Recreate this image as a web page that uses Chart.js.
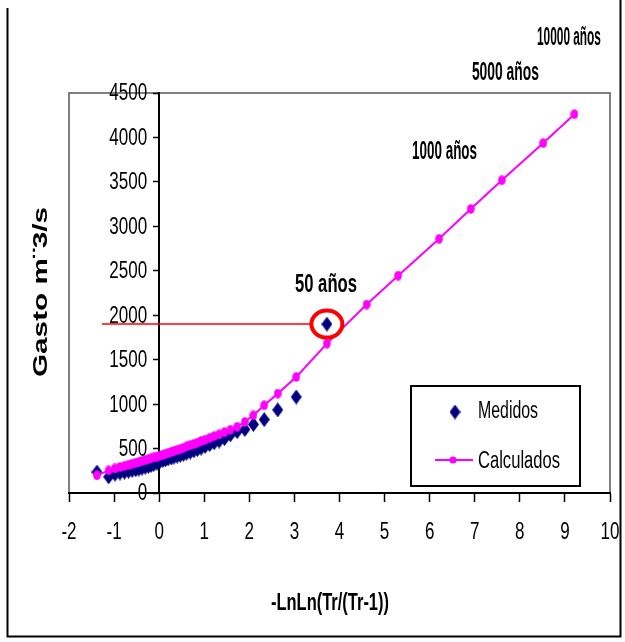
<!DOCTYPE html>
<html><head><meta charset="utf-8">
<script src="https://cdn.jsdelivr.net/npm/chart.js@4.4.1/dist/chart.umd.min.js"></script>
<style>html,body{margin:0;padding:0;background:#fff;} canvas{display:block;}</style>
</head><body>
<canvas id="c" width="625" height="642"></canvas>
<script>
// ---- data ----
const ppX = [3.72, 3.04, 2.63, 2.33, 2.09, 1.90, 1.73, 1.58, 1.45, 1.33, 1.22, 1.12, 1.02, 0.93, 0.85, 0.77, 0.69, 0.61, 0.54, 0.47, 0.40, 0.33, 0.27, 0.20, 0.14, 0.08, 0.01, -0.05, -0.12, -0.18, -0.24, -0.31, -0.38, -0.45, -0.52, -0.60, -0.68, -0.77, -0.87, -0.98, -1.12, -1.38];
const medidos = [1900, 1080, 935, 826, 772, 715, 690, 655, 612, 585, 565, 545, 525, 505, 490, 475, 460, 448, 436, 425, 415, 405, 395, 385, 375, 365, 350, 335, 322, 310, 300, 290, 280, 270, 262, 255, 245, 235, 225, 212, 182, 236];
const calcPP = [1681, 1305, 1118, 987, 874, 800, 745, 712, 685, 660, 640, 620, 600, 585, 568, 553, 538, 524, 510, 497, 485, 473, 462, 452, 442, 432, 420, 410, 400, 390, 380, 370, 360, 350, 340, 330, 318, 305, 292, 276, 255, 199];
const rpX = [4.60, 5.30, 6.21, 6.91, 7.60, 8.52, 9.21];
const calcRP = [2120, 2445, 2860, 3195, 3518, 3937, 4262];
const xTicks = [-2, -1, 0, 1, 2, 3, 4, 5, 6, 7, 8, 9, 10];
const yTicks = [0, 500, 1000, 1500, 2000, 2500, 3000, 3500, 4000, 4500];
const seriesNames = ['Medidos', 'Calculados'];
const xTitle = '-LnLn(Tr/(Tr-1))';
const yTitle = 'Gasto m¨3/s';
const periodLabels = ['50 años', '1000 años', '5000 años', '10000 años'];
const periodLabelAt = [[3.70, 2258], [6.33, 3754], [7.68, 4643], [9.09, 5037]];
const highlight = {x: 3.72, y: 1900, fromX: -1.27};

// ---- styles ----
const NAVY = '#000080', MAG = '#FF00FF';
const SANS = "'Liberation Sans', Arial, sans-serif";
const TICK_FONT = '23.3px ' + SANS, TICK_SQUEEZE = 0.73;
const labelWidths = [62, 65, 67, 64];

const diamond = (() => { const c = document.createElement('canvas'); c.width = 11; c.height = 15; const g = c.getContext('2d'); g.fillStyle = NAVY; g.beginPath(); g.moveTo(5.5,0); g.lineTo(11,7.5); g.lineTo(5.5,15); g.lineTo(0,7.5); g.closePath(); g.fill(); return c; })();
const blob = (() => { const c = document.createElement('canvas'); c.width = 8; c.height = 10; const g = c.getContext('2d'); g.fillStyle = MAG; g.beginPath(); g.ellipse(4,5,3.8,4.8,0,0,Math.PI*2); g.fill(); return c; })();

const calcPoints = ppX.map((x,i)=>({x, y: calcPP[i]})).concat(rpX.map((x,i)=>({x, y: calcRP[i]}))).sort((a,b)=>a.x-b.x);
const medPoints = ppX.map((x,i)=>({x, y: medidos[i]}));

function sText(ctx, s, x, by, font, targetW, align, baseline) {
  ctx.save(); ctx.font = font; const w = ctx.measureText(s).width;
  ctx.translate(x, by); ctx.scale(targetW / w, 1);
  ctx.textAlign = align || 'center'; ctx.textBaseline = baseline || 'alphabetic';
  ctx.fillStyle = '#000'; ctx.fillText(s, 0, 0); ctx.restore();
}
function squeezed(ctx, s, x, y, align) {
  ctx.save(); ctx.font = TICK_FONT; ctx.translate(x, y); ctx.scale(TICK_SQUEEZE, 1);
  ctx.textAlign = align; ctx.textBaseline = 'middle'; ctx.fillStyle = '#000'; ctx.fillText(s, 0, 0); ctx.restore();
}

const deco = {
  id: 'deco',
  beforeDraw(chart) {
    const {ctx, chartArea: a} = chart;
    ctx.save();
    ctx.fillStyle = '#fff'; ctx.fillRect(0, 0, chart.width, chart.height);
    ctx.strokeStyle = '#808080'; ctx.lineWidth = 2;
    ctx.strokeRect(a.left, a.top, a.right - a.left, a.bottom - a.top);
    ctx.restore();
  },
  afterDraw(chart) {
    const {ctx} = chart; const sx = chart.scales.x, sy = chart.scales.y;
    ctx.save();
    // tick labels, placed by the chart's own scales
    const x0 = sx.getPixelForValue(0), y0 = sy.getPixelForValue(0);
    sy.ticks.forEach(t => squeezed(ctx, String(t.value), x0 - 12, sy.getPixelForValue(t.value) + 1, 'right'));
    sx.ticks.forEach(t => squeezed(ctx, String(t.value), sx.getPixelForValue(t.value), y0 + 40, 'center'));
    // highlight line and circle
    const cx = sx.getPixelForValue(highlight.x), cy = sy.getPixelForValue(highlight.y);
    ctx.strokeStyle = '#FF0000'; ctx.lineWidth = 1.5;
    ctx.beginPath(); ctx.moveTo(sx.getPixelForValue(highlight.fromX), cy); ctx.lineTo(cx - 16, cy); ctx.stroke();
    ctx.lineWidth = 4; ctx.beginPath(); ctx.ellipse(cx, cy, 15.5, 13.5, 0, 0, Math.PI*2); ctx.stroke();
    // period labels
    periodLabels.forEach((t, i) => {
      sText(ctx, t, sx.getPixelForValue(periodLabelAt[i][0]), sy.getPixelForValue(periodLabelAt[i][1]), 'bold 26.5px ' + SANS, labelWidths[i]);
    });
    // legend
    ctx.fillStyle = '#fff'; ctx.fillRect(411, 386, 169, 100);
    ctx.strokeStyle = '#000'; ctx.lineWidth = 2; ctx.strokeRect(411, 386, 169, 100);
    ctx.drawImage(diamond, 455 - 5.5, 412 - 7.5);
    ctx.strokeStyle = MAG; ctx.lineWidth = 2; ctx.beginPath(); ctx.moveTo(435, 460); ctx.lineTo(473, 460); ctx.stroke();
    ctx.fillStyle = MAG; ctx.beginPath(); ctx.arc(453, 460, 3.6, 0, Math.PI*2); ctx.fill();
    sText(ctx, seriesNames[0], 478, 418, '23.5px ' + SANS, 60, 'left');
    sText(ctx, seriesNames[1], 478, 468, '23.5px ' + SANS, 82, 'left');
    // axis titles
    sText(ctx, xTitle, 330, 610, 'bold 23px ' + SANS, 118);
    ctx.save(); ctx.translate(47, 292); ctx.rotate(-Math.PI/2);
    sText(ctx, yTitle, 0, 0, 'bold 21px ' + SANS, 170);
    ctx.restore();
    // outer frame
    ctx.strokeStyle = '#000'; ctx.lineWidth = 2;
    ctx.beginPath(); ctx.moveTo(7.5, 8); ctx.lineTo(7.5, 636.5); ctx.lineTo(620.5, 636.5); ctx.lineTo(620.5, 0); ctx.stroke();
    ctx.restore();
  }
};

new Chart(document.getElementById('c'), {
  type: 'scatter',
  data: { datasets: [
    { label: seriesNames[1], data: calcPoints, showLine: true, borderColor: MAG, borderWidth: 2, backgroundColor: MAG, pointStyle: blob, pointRadius: 4, order: 0 },
    { label: seriesNames[0], data: medPoints, showLine: false, backgroundColor: NAVY, pointStyle: diamond, pointRadius: 6, order: 1 }
  ]},
  options: {
    responsive: false, animation: false, devicePixelRatio: 1,
    layout: { autoPadding: false, padding: {left: 69, top: 93, right: 15, bottom: 149} },
    plugins: { legend: {display: false}, tooltip: {enabled: false} },
    scales: {
      x: {
        type: 'linear', position: {y: 0}, min: -2, max: 10,
        afterBuildTicks: s => { s.ticks = xTicks.map(v => ({value: v})); },
        grid: {display: true, drawOnChartArea: false, drawTicks: true, tickLength: 8, color: '#000', tickWidth: 1.5},
        border: {display: true, color: '#000', width: 2},
        ticks: {display: false}
      },
      y: {
        type: 'linear', position: {x: 0}, min: 0, max: 4500,
        afterBuildTicks: s => { s.ticks = yTicks.map(v => ({value: v})); },
        grid: {display: true, drawOnChartArea: false, drawTicks: true, tickLength: 5, color: '#000', tickWidth: 1.5},
        border: {display: true, color: '#000', width: 2},
        ticks: {display: false}
      }
    }
  },
  plugins: [deco]
});
</script>
</body></html>
